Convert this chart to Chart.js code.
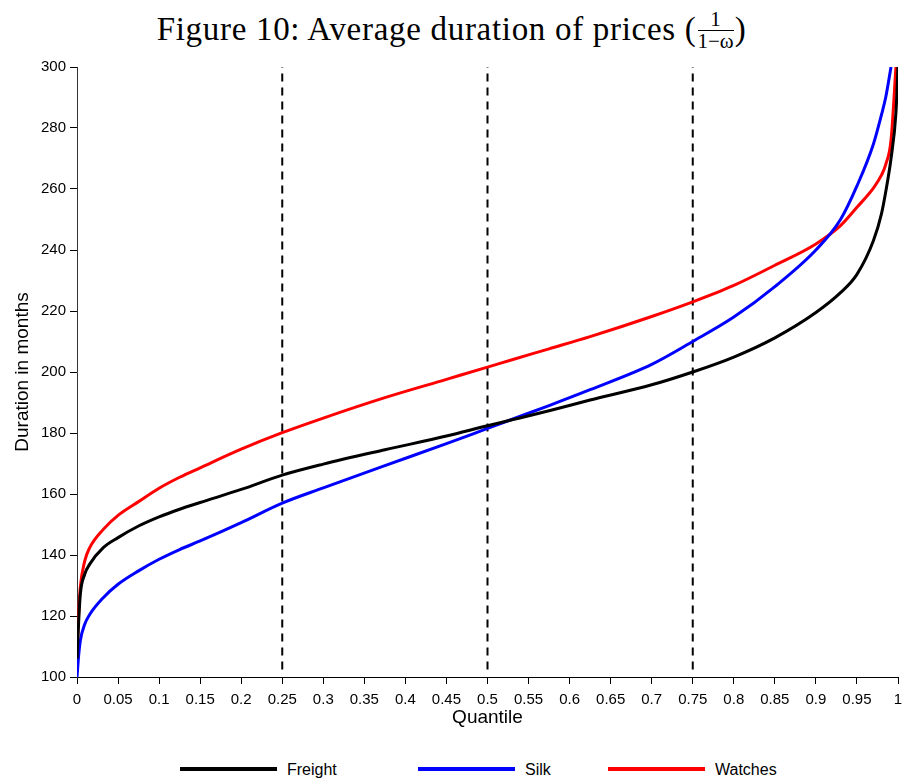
<!DOCTYPE html>
<html lang="en">
<head>
  <meta charset="UTF-8">
  <title>Average duration of prices</title>
  <script src="https://cdn.jsdelivr.net/npm/chart.js"></script>
  <style>
    body { margin: 0; width: 903px; height: 778px; background: #fff; position: relative; overflow: hidden; }
    #title { position: absolute; left: 0; width: 903px; top: 11px; text-align: center; letter-spacing: 0.7px;
             font-family: "Liberation Serif", "DejaVu Serif", serif; font-size: 33px; color: #000; white-space: nowrap; }
    .frac { display: inline-flex; flex-direction: column; vertical-align: middle; font-size: 21px; line-height: 20px;
            margin: 0 1px; position: relative; top: -2px; letter-spacing: 0; }
    .frac span { text-align: center; }
    .frac .num { border-bottom: 1px solid #000; padding: 0 2px 1px; }
    #wrap { position: absolute; left: 0; top: 54px; width: 903px; height: 686px; }
    #legend { position: absolute; top: 759px; left: 0; width: 903px; height: 20px;
              font-family: "Liberation Sans", Arial, sans-serif; font-size: 16px; color: #000; }
    .item { position: absolute; top: 0; height: 20px; line-height: 20px; }
    .item i { position: absolute; top: 8px; width: 97px; height: 3.5px; }
    .item span { position: absolute; left: 107px; white-space: nowrap; top: 1px; }
  </style>
</head>
<body>
  <div id="title">Figure 10: Average duration of prices (<span class="frac"><span class="num">1</span><span>1−ω</span></span>)</div>
  <div id="wrap"><canvas id="graphique" width="903" height="686"></canvas></div>
  <div id="legend"></div>

  <script>
    // quantiles shared by the three series
    const quantiles = [0, 0.002, 0.004, 0.0094, 0.0155, 0.032, 0.05, 0.075, 0.1, 0.125, 0.15, 0.2, 0.25,
      0.3, 0.375, 0.45, 0.5, 0.531, 0.575, 0.625, 0.7, 0.75, 0.8, 0.85, 0.9, 0.93, 0.95, 0.97, 0.98,
      0.985, 0.9915, 0.9975, 1];
    const freight = [106, 118, 127, 133.7, 137, 142.4, 145.7, 149.5, 152.5, 155, 157.2, 161.5, 166.2,
      169.8, 174.5, 179, 182.4, 184.4, 187.3, 190.8, 195.8, 200, 204.9, 211.2, 219.5, 226, 232, 243, 252,
      259, 270, 285, 300];
    const silk = [100, 107, 111.8, 117.3, 120.5, 126, 130.4, 134.8, 138.6, 141.8, 144.6, 150.6, 157,
      162, 169.3, 176.5, 181.5, 184.6, 189, 194.2, 202.5, 210, 218, 228, 240, 250, 261, 274.7, 284.5,
      290, 300, null, null];
    const watches = [107.5, 121, 129.3, 138, 142.4, 148.4, 153, 157.5, 161.9, 165.5, 168.6, 174.7, 180.1,
      184.9, 191.6, 197.6, 201.6, 204.1, 207.6, 211.6, 218.2, 223, 228.4, 235, 242, 248, 254, 260.3, 264.6,
      268, 276, 300, null];
    const markers = [0.25, 0.5, 0.75];
    const series = [
      { label: 'Freight', values: freight, color: '#000000' },
      { label: 'Silk', values: silk, color: '#0000ff' },
      { label: 'Watches', values: watches, color: '#ff0000' }
    ];
    const legendLeft = [180, 418, 608];

    const datasets = series.map(s => ({
      label: s.label,
      data: quantiles.map((q, i) => ({ x: q, y: s.values[i] })),
      borderColor: s.color,
      borderWidth: 3,
      pointRadius: 0,
      cubicInterpolationMode: 'monotone',
      spanGaps: false
    }));
    markers.forEach(m => datasets.push({
      label: 'q' + m,
      data: [{ x: m, y: 102.5 }, { x: m, y: 300 }],
      borderColor: '#000',
      borderWidth: 2,
      borderDash: [8, 6],
      pointRadius: 0
    }));

    const tickFont = { family: '"Liberation Sans", Arial, sans-serif', size: 15 };
    const titleFont = { family: '"Liberation Sans", Arial, sans-serif', size: 19 };

    new Chart(document.getElementById('graphique'), {
      type: 'line',
      data: { datasets: datasets },
      options: {
        responsive: false,
        animation: false,
        layout: { padding: { top: 4, right: 0, left: 0, bottom: 0 } },
        plugins: { legend: { display: false }, tooltip: { enabled: false } },
        scales: {
          x: {
            type: 'linear', min: 0, max: 1,
            afterFit: s => { s.height = 63; s.paddingRight = 5; s.paddingLeft = 0; },
            ticks: { stepSize: 0.05, color: '#000', font: tickFont, padding: 7, maxRotation: 0, autoSkip: false,
                     callback: v => String(+v.toFixed(2)) },
            grid: { drawOnChartArea: false, drawTicks: true, tickLength: 7, color: '#000' },
            border: { display: true, color: '#000', width: 1 },
            title: { display: true, text: 'Quantile', color: '#000', font: titleFont, padding: { top: 0, bottom: 11 } }
          },
          y: {
            min: 100, max: 300,
            afterFit: s => { s.width = 77; },
            ticks: { stepSize: 20, color: '#000', font: tickFont, padding: 4 },
            grid: { drawOnChartArea: false, drawTicks: true, tickLength: 7, color: '#000' },
            border: { display: true, color: '#333', width: 1 },
            title: { display: true, text: 'Duration in months', color: '#000', font: titleFont, padding: { top: 11, bottom: 0 } }
          }
        }
      }
    });

    const legend = document.getElementById('legend');
    series.forEach((s, i) => {
      const d = document.createElement('div');
      d.className = 'item';
      d.style.left = legendLeft[i] + 'px';
      d.innerHTML = '<i style="background:' + s.color + '"></i><span>' + s.label + '</span>';
      legend.appendChild(d);
    });
  </script>
</body>
</html>
